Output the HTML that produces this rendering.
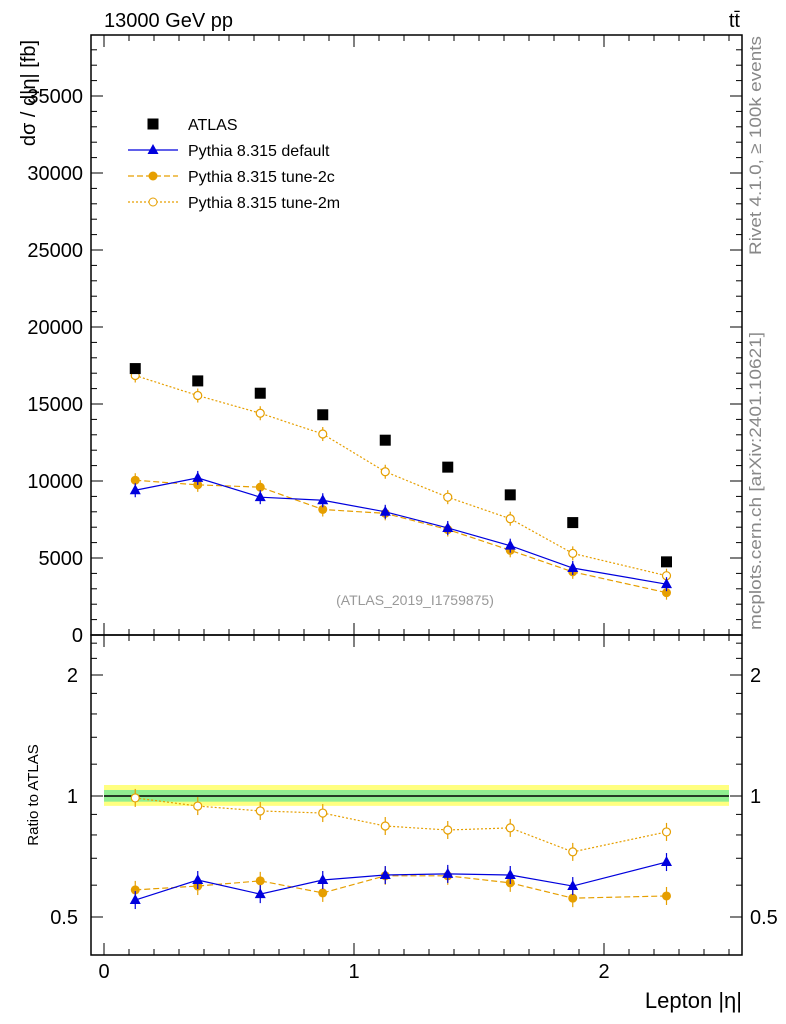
<!DOCTYPE html>
<html><head><meta charset="utf-8"><style>
body{margin:0;background:#fff;}
svg{display:block;font-family:"Liberation Sans",sans-serif;}
</style></head><body>
<svg id="c" width="786" height="1024" xmlns="http://www.w3.org/2000/svg"></svg>
<script>
const binCenters=[0.125,0.375,0.625,0.875,1.125,1.375,1.625,1.875,2.25];
const binHalf=[0.125,0.125,0.125,0.125,0.125,0.125,0.125,0.125,0.25];
const atlas=[17300,16500,15700,14300,12650,10900,9100,7300,4750];
const pyDefault=[9400,10200,8950,8750,8000,6950,5800,4350,3300];
const pyTune2c=[10050,9750,9600,8150,7900,6850,5500,4100,2750];
const pyTune2m=[16850,15550,14400,13050,10600,8950,7550,5300,3850];
const ratioDefault=[0.551,0.618,0.570,0.618,0.636,0.640,0.636,0.597,0.685];
const ratioTune2c=[0.584,0.597,0.615,0.574,0.633,0.633,0.608,0.557,0.564];
const ratioTune2m=[0.989,0.944,0.918,0.907,0.842,0.823,0.833,0.726,0.814];
const mainTicks=[0,5000,10000,15000,20000,25000,30000,35000];
const ratioTicks=[0.5,1,2];
const xTicks=[0,1,2];

const NS="http://www.w3.org/2000/svg";
const svg=document.getElementById('c');
function el(tag,attrs,parent){const e=document.createElementNS(NS,tag);for(const k in attrs)e.setAttribute(k,attrs[k]);(parent||svg).appendChild(e);return e;}
const L=91,R=742,T=35,M=635,B=955;
const X=v=>104+v*250;
const Y=v=>635-v*77/5000;
const YR=v=>796-Math.log2(v)*121;
const BLUE="#0000dd",ORG="#e69f00";

let g=el('g',{});


el('rect',{x:X(0),y:YR(1.065),width:X(2.5)-X(0),height:YR(0.945)-YR(1.065),fill:"#ffff80"},g);
el('rect',{x:X(0),y:YR(1.035),width:X(2.5)-X(0),height:YR(0.968)-YR(1.035),fill:"#90ee90"},g);
let ln=el('line',{x1:X(0),x2:X(2.5),y1:YR(1),y2:YR(1),stroke:"#000","stroke-width":1.5});



let f1=el('rect',{x:L,y:T,width:R-L,height:M-T,fill:"none",stroke:"#000","stroke-width":1.5});


let f2=el('rect',{x:L,y:M,width:R-L,height:B-M,fill:"none",stroke:"#000","stroke-width":1.5});



for(let i=0;i<=25;i++){const v=i/10,x=X(v),maj=i%10==0,len=maj?12:6;
 for(const [y0,d] of [[M,-1],[T,1],[B,-1],[M,1]]) el('line',{x1:x,x2:x,y1:y0,y2:y0+d*len,stroke:"#000"});}
for(const v of xTicks){const t=el('text',{x:X(v),y:978,"font-size":20,"text-anchor":"middle"});t.textContent=v;
 }
for(let v=0;v<=38000;v+=1000){const y=Y(v),maj=v%5000==0,len=maj?12:6;
 el('line',{x1:L,x2:L+len,y1:y,y2:y,stroke:"#000"});el('line',{x1:R,x2:R-len,y1:y,y2:y,stroke:"#000"});}
for(const v of mainTicks){const t=el('text',{x:83,y:Y(v)+7,"font-size":20,"text-anchor":"end"});t.textContent=v;
 }
for(const v of [0.5,0.6,0.7,0.8,0.9,1,1.2,1.4,1.6,1.8,2,2.2,2.4]){const y=YR(v),maj=ratioTicks.includes(v),len=maj?12:6;
 el('line',{x1:L,x2:L+len,y1:y,y2:y,stroke:"#000"});el('line',{x1:R,x2:R-len,y1:y,y2:y,stroke:"#000"});}
for(const v of ratioTicks){let t=el('text',{x:78,y:YR(v)+7,"font-size":20,"text-anchor":"end"});t.textContent=v;
 
 t=el('text',{x:750,y:YR(v)+7,"font-size":20});t.textContent=v;
 }

function series(vals,yf,color,dash,marker,name,err){
 const grp=el('g',{});
 const pts=binCenters.map((c,i)=>[X(c),yf(vals[i])]);
 if(color) el('polyline',{points:pts.map(p=>p.join(',')).join(' '),fill:"none",stroke:color,"stroke-width":1.2,"stroke-dasharray":dash},grp);
 pts.forEach((p,i)=>{
  if(err) el('line',{x1:p[0],x2:p[0],y1:p[1]-err,y2:p[1]+err,stroke:color||"#000","stroke-width":1.2},grp);
  let m;
  if(marker=='sq') m=el('rect',{x:p[0]-5.5,y:p[1]-5.5,width:11,height:11,fill:"#000"},grp);
  else if(marker=='tri') m=el('polygon',{points:`${p[0]},${p[1]-6} ${p[0]-5.5},${p[1]+4} ${p[0]+5.5},${p[1]+4}`,fill:color},grp);
  else if(marker=='dot') m=el('circle',{cx:p[0],cy:p[1],r:4.5,fill:color},grp);
  else m=el('circle',{cx:p[0],cy:p[1],r:4,fill:"#fff",stroke:color,"stroke-width":1.2},grp);
  
 });
}
series(pyTune2m,Y,ORG,"2,2","open","main-tune-2m",7);
series(pyTune2c,Y,ORG,"6,3","dot","main-tune-2c",7);
series(pyDefault,Y,BLUE,"","tri","main-default",7);
series(atlas,Y,null,"","sq","main-atlas",0);
series(ratioTune2m,YR,ORG,"2,2","open","ratio-tune-2m",9);
series(ratioTune2c,YR,ORG,"6,3","dot","ratio-tune-2c",9);
series(ratioDefault,YR,BLUE,"","tri","ratio-default",9);

const leg=[["ATLAS","sq",null,""],["Pythia 8.315 default","tri",BLUE,""],["Pythia 8.315 tune-2c","dot",ORG,"6,3"],["Pythia 8.315 tune-2m","open",ORG,"2,2"]];
leg.forEach((e,i)=>{const y=124+i*26;const g=el('g',{});
 
 if(e[2]) el('line',{x1:128,x2:178,y1:y,y2:y,stroke:e[2],"stroke-width":1.2,"stroke-dasharray":e[3]},g);
 const x=153;
 if(e[1]=='sq') el('rect',{x:x-5.5,y:y-5.5,width:11,height:11,fill:"#000"},g);
 else if(e[1]=='tri') el('polygon',{points:`${x},${y-6} ${x-5.5},${y+4} ${x+5.5},${y+4}`,fill:e[2]},g);
 else if(e[1]=='dot') el('circle',{cx:x,cy:y,r:4.5,fill:e[2]},g);
 else el('circle',{cx:x,cy:y,r:4,fill:"#fff",stroke:e[2]},g);
 const t=el('text',{x:188,y:y+6,"font-size":16},g);t.textContent=e[0];});

function txt(s,a,name){const t=el('text',a);t.textContent=s;return t;}
txt("13000 GeV pp",{x:104,y:27,"font-size":20},'title-energy');
txt("tt̄",{x:740,y:27,"font-size":20,"text-anchor":"end"},'title-process');
txt("(ATLAS_2019_I1759875)",{x:415,y:605,"font-size":14,fill:"#999","text-anchor":"middle"},'analysis-label');
txt("dσ / d|η| [fb]",{x:0,y:0,"font-size":20,"text-anchor":"end",transform:"translate(35,40) rotate(-90)"},'y-axis-title');
txt("Ratio to ATLAS",{x:0,y:0,"font-size":15,"text-anchor":"middle",transform:"translate(38,795) rotate(-90)"},'ratio-y-axis-title');
txt("Lepton |η|",{x:742,y:1008,"font-size":22,"text-anchor":"end"},'x-axis-title');
txt("Rivet 4.1.0, ≥ 100k events",{x:0,y:0,"font-size":17,fill:"#888","text-anchor":"end",textLength:219,lengthAdjust:"spacingAndGlyphs",transform:"translate(761,36) rotate(-90)"},'rivet-label');
txt("mcplots.cern.ch [arXiv:2401.10621]",{x:0,y:0,"font-size":17,fill:"#888","text-anchor":"end",textLength:298,lengthAdjust:"spacingAndGlyphs",transform:"translate(761,332) rotate(-90)"},'mcplots-label');
</script>
</body></html>
